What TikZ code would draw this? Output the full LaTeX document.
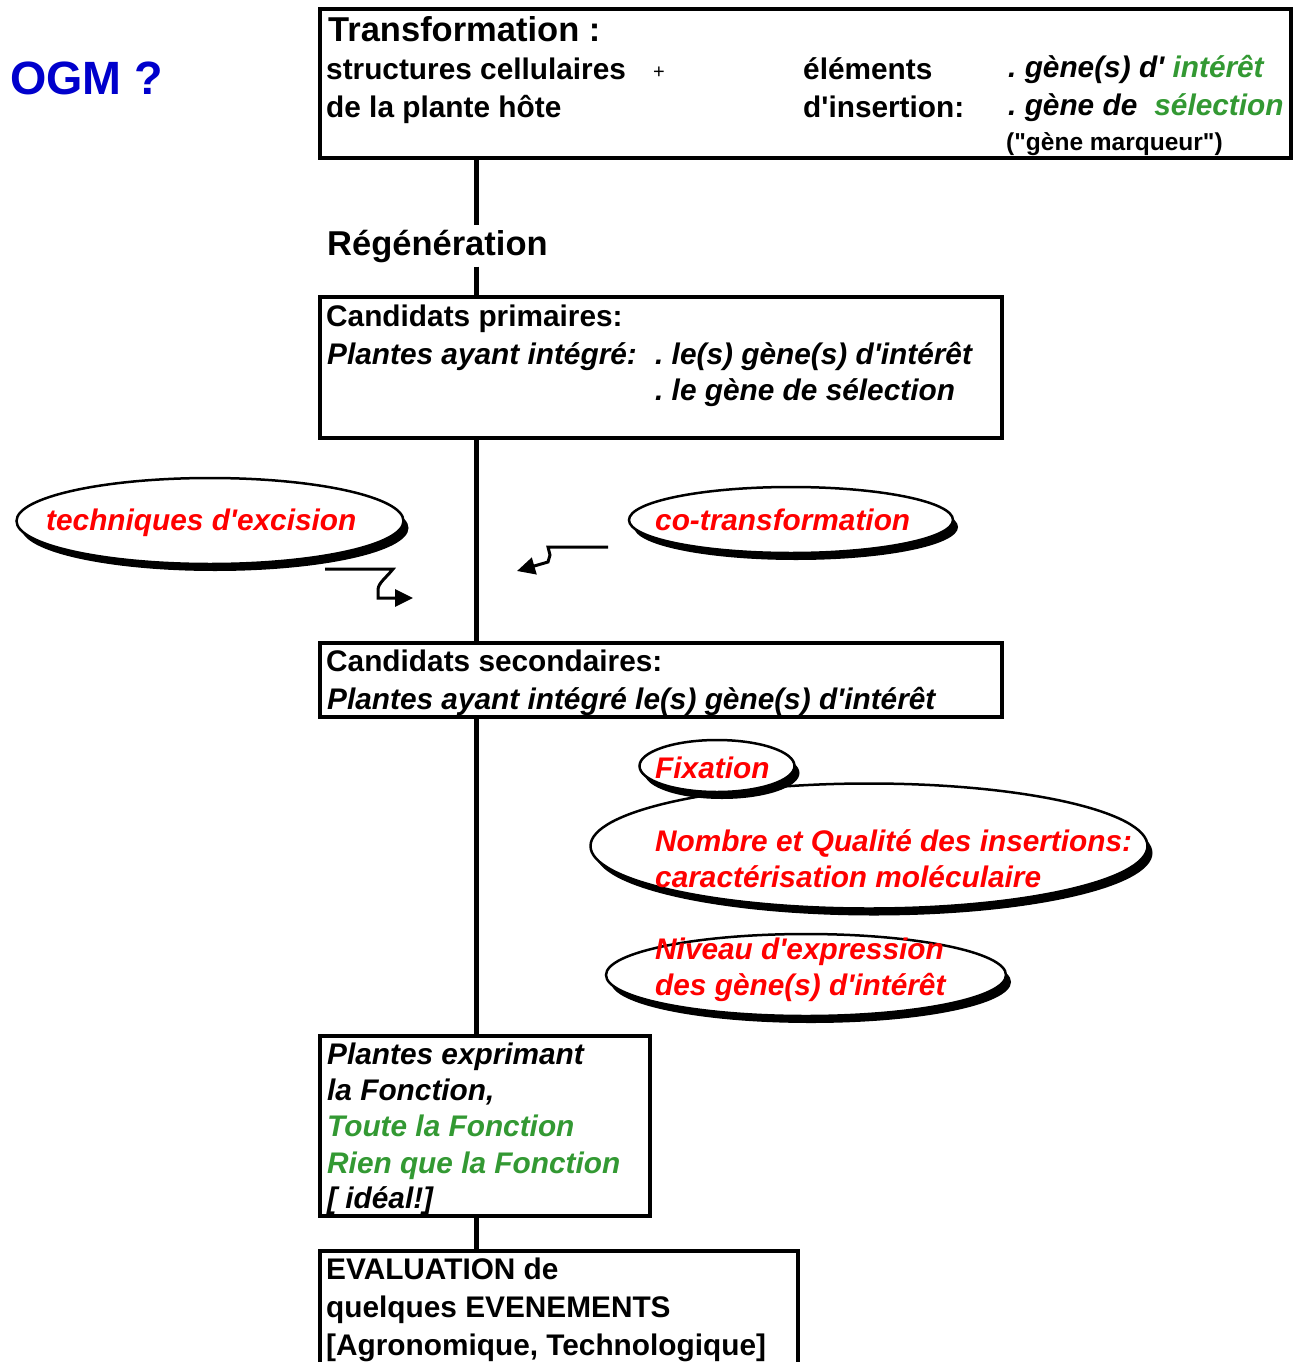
\documentclass[tikz,border=0pt]{standalone}
\usepackage{fontspec}
\setmainfont{Liberation Sans}[Ligatures=TeXOff]
\usetikzlibrary{arrows.meta,shapes.geometric,shadows}
\definecolor{ogmblue}{RGB}{0,0,204}
\definecolor{okgreen}{RGB}{51,153,51}
\definecolor{ellred}{RGB}{255,0,0}
\frenchspacing
\begin{document}
\begin{tikzpicture}[x=1pt,y=-1pt,
 box/.style={draw, line width=4pt, rectangle, inner sep=0pt, anchor=north west},
 txt/.style={anchor=base west, inner sep=0pt, font=\fontsize{29.8}{36}\selectfont\bfseries},
 itxt/.style={txt, font=\fontsize{29.8}{36}\selectfont\bfseries\itshape},
 rtxt/.style={itxt, text=ellred},
 gtxt/.style={itxt, text=okgreen},
 ell/.style={ellipse, draw, line width=2.5pt, fill=white, inner sep=0pt,
   drop shadow={shadow xshift=5pt, shadow yshift=-7pt, opacity=1, fill=black}},
 conn/.style={line width=5pt},
 arr/.style={line width=3pt, -{Triangle[length=18pt,width=17pt]}},
]
\useasboundingbox[fill=white] (0,0) rectangle (1294,1362);

% OGM title
\node[txt, font=\fontsize{46.7}{52}\selectfont\bfseries, text=ogmblue] (ogm) at (10,95) {OGM ?};

% box 1
\node[box, minimum width=971.5pt, minimum height=149pt] (b1) at (317.5,7) {};
\node[txt, font=\fontsize{34.5}{40}\selectfont\bfseries] (t1) at (328,42) {Transformation :};
\node[txt] (t2) at (326,80) {structures cellulaires};
\node[txt, font=\fontsize{20}{24}\selectfont] (plus) at (653,79) {+};
\node[txt] (t3) at (803,80) {éléments};
\node[itxt] (t4) at (1008,78) {. gène(s) d' \textcolor{okgreen}{intérêt}};
\node[txt] (t5) at (326,118) {de la plante hôte};
\node[txt] (t6) at (803,118) {d'insertion:};
\node[itxt] (t7) at (1008,116) {. gène de\hspace{17pt}\textcolor{okgreen}{sélection}};
\node[txt, font=\fontsize{24.5}{30}\selectfont\bfseries] (t8) at (1006,150) {("gène marqueur")};

% Regeneration
\node[txt, font=\fontsize{34.5}{40}\selectfont\bfseries, inner ysep=4pt] (reg) at (327,255) {Régénération};

% box 2
\node[box, minimum width=682.5pt, minimum height=141pt] (b2) at (317.5,295) {};
\node[txt] (c1) at (326,326) {Candidats primaires:};
\node[itxt] (c2) at (327,364) {Plantes ayant intégré:};
\node[itxt] (c3) at (655,364) {. le(s) gène(s) d'intérêt};
\node[itxt] (c4) at (655,400) {. le gène de sélection};

% ellipses middle
\node[ell, minimum width=387pt, minimum height=86pt] (exc) at (210,521) {};
\node[rtxt] (exct) at (46,530) {techniques d'excision};
\node[ell, minimum width=324pt, minimum height=66pt] (cot) at (791,520) {};
\node[rtxt] (cott) at (655,530) {co-transformation};

% arrows
\coordinate (ea) at (325,569);
\coordinate (eb) at (413,598);
\draw[arr] (ea) -- (393,569) .. controls (386,578) and (378,583) .. (378,590) -- (378,598) -- (eb);
\coordinate (ca) at (608,547);
\coordinate (cb) at (517,571);
\draw[arr] (ca) -- (548,547) -- (550,555) -- (548,562) -- (cb);

% box 3
\node[box, minimum width=682.5pt, minimum height=74pt] (b3) at (317.5,641) {};
\node[txt] (s1) at (326,671) {Candidats secondaires:};
\node[itxt] (s2) at (327,709) {Plantes ayant intégré le(s) gène(s) d'intérêt};

% ellipses lower
\node[ell, minimum width=557pt, minimum height=125pt] (nq) at (869,846) {};
\node[ell, minimum width=155pt, minimum height=52pt] (fix) at (717,766) {};
\node[ell, minimum width=400pt, minimum height=82pt] (niv) at (806,975) {};
\node[rtxt] (fixt) at (655,778) {Fixation};
\node[rtxt] (nq1) at (655,851) {Nombre et Qualité des insertions:};
\node[rtxt] (nq2) at (655,887) {caractérisation moléculaire};
\node[rtxt] (nv1) at (655,959) {Niveau d'expression};
\node[rtxt] (nv2) at (655,995) {des gène(s) d'intérêt};

% box 4
\node[box, minimum width=330.5pt, minimum height=180pt] (b4) at (317.5,1034) {};
\node[itxt] (p1) at (327,1064) {Plantes exprimant};
\node[itxt] (p2) at (327,1100) {la Fonction,};
\node[gtxt] (p3) at (327,1136) {Toute la Fonction};
\node[gtxt] (p4) at (327,1173) {Rien que la Fonction};
\node[itxt] (p5) at (327,1208) {[ idéal!]};

% box 5
\node[box, minimum width=478.5pt, minimum height=160pt] (b5) at (317.5,1249) {};
\node[txt] (e1) at (326,1279) {EVALUATION de};
\node[txt] (e2) at (326,1317) {quelques EVENEMENTS};
\node[txt] (e3) at (326,1355) {[Agronomique, Technologique]};

% spine connectors
\coordinate (sp) at (476.5,0);
\draw[conn] (b1.south -| sp) -- (reg.north -| sp);
\draw[conn] (reg.south -| sp) -- (b2.north -| sp);
\draw[conn] (b2.south -| sp) -- (b3.north -| sp);
\draw[conn] (b3.south -| sp) -- (b4.north -| sp);
\draw[conn] (b4.south -| sp) -- (b5.north -| sp);
\end{tikzpicture}
\end{document}
